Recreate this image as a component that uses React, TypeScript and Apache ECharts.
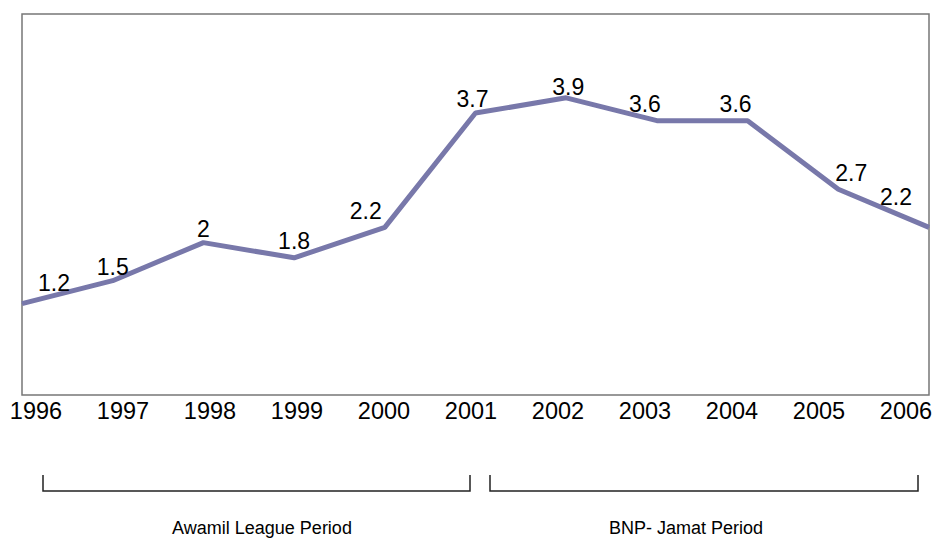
import React, { useEffect, useRef } from "react";
import * as echarts from "echarts";

// Yearly values of the line, one per year
const years = ["1996", "1997", "1998", "1999", "2000", "2001", "2002", "2003", "2004", "2005", "2006"];
const values = [1.2, 1.5, 2, 1.8, 2.2, 3.7, 3.9, 3.6, 3.6, 2.7, 2.2];
// Label nudges [dx, dy] so value labels sit clear of the line
const labelOffsets: [number, number][] = [
  [32, -4], [0, 3], [0, 3], [0, 0], [-19, 1], [-3, 3], [2, 6], [-12, 0], [-12, 0], [13, 1], [-33, -13],
];
const periods = ["Awamil League Period", "BNP- Jamat Period"];

const FONT = "'Liberation Sans', Arial, Helvetica, sans-serif";
const LINE_COLOR = "#7878aa";

export default function App() {
  const ref = useRef<HTMLDivElement>(null);

  useEffect(() => {
    if (!ref.current) return;
    const chart = echarts.init(ref.current, null, { renderer: "svg" });
    const bracketStyle = { stroke: "#222", lineWidth: 1.5, fill: "none" };
    chart.setOption({
      animation: false,
      backgroundColor: "#fff",
      textStyle: { fontFamily: FONT },
      grid: [
        { left: 22, right: 7, top: 14, bottom: 144, show: true, borderColor: "#777", borderWidth: 1.5 },
        { left: 36, right: 30, top: 14, bottom: 144, show: false },
      ],
      xAxis: [
        {
          type: "category",
          data: years,
          boundaryGap: false,
          gridIndex: 0,
          axisLine: { show: false },
          axisTick: { show: false },
          axisLabel: { show: false },
          splitLine: { show: false },
        },
        {
          type: "category",
          data: years,
          boundaryGap: false,
          gridIndex: 1,
          axisLine: { show: false },
          axisTick: { show: false },
          splitLine: { show: false },
          axisLabel: { show: true, fontSize: 23.5, color: "#000", margin: 4, fontFamily: FONT },
        },
      ],
      yAxis: [
        { type: "value", min: 0, max: 5, gridIndex: 0, show: false },
        { type: "value", min: 0, max: 5, gridIndex: 1, show: false },
      ],
      series: [
        {
          type: "line",
          xAxisIndex: 0,
          yAxisIndex: 0,
          data: values.map((v, i) => ({
            value: v,
            label: { offset: labelOffsets[i] },
          })),
          showSymbol: true,
          symbol: "circle",
          symbolSize: 1,
          itemStyle: { color: LINE_COLOR },
          lineStyle: { color: LINE_COLOR, width: 5 },
          label: {
            show: true,
            position: "top",
            distance: 5,
            fontSize: 23,
            color: "#000",
            fontFamily: FONT,
          },
        },
      ],
      graphic: [
        {
          type: "polyline",
          shape: { points: [[43, 475], [43, 491], [470, 491], [470, 475]] },
          style: bracketStyle,
        },
        {
          type: "polyline",
          shape: { points: [[490, 475], [490, 491], [918, 491], [918, 475]] },
          style: bracketStyle,
        },
        {
          type: "text",
          x: 262,
          y: 528,
          style: { text: periods[0], fontSize: 18, fill: "#000", align: "center", verticalAlign: "middle", fontFamily: FONT },
        },
        {
          type: "text",
          x: 686,
          y: 528,
          style: { text: periods[1], fontSize: 18, fill: "#000", align: "center", verticalAlign: "middle", fontFamily: FONT },
        },
      ],
    });
    return () => chart.dispose();
  }, []);

  return (
    <div
      ref={ref}
      style={{ position: "fixed", left: 0, top: 0, width: 936, height: 539, background: "#fff" }}
    />
  );
}
